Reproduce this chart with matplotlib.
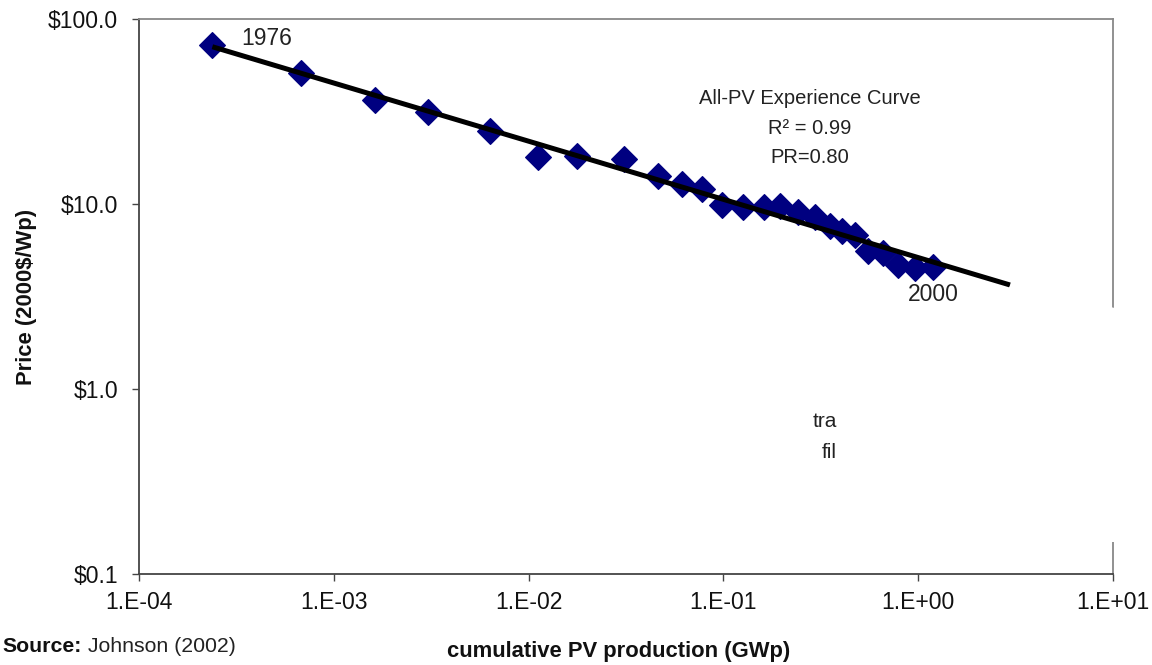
import matplotlib.pyplot as plt
import numpy as np
from matplotlib.patches import Polygon
from matplotlib.ticker import NullLocator

plt.rcParams['font.family'] = ['Liberation Sans', 'DejaVu Sans']

# cumulative PV production (GWp) and price (2000$/Wp), 1976-2000
years = list(range(1976, 2001))
cum_gwp = [2.38e-4, 6.82e-4, 1.62e-3, 3.05e-3, 6.31e-3, 0.0112, 0.0178, 0.0310,
           0.0459, 0.0612, 0.0776, 0.0983, 0.126, 0.161, 0.196, 0.242, 0.296,
           0.353, 0.406, 0.474, 0.555, 0.663, 0.791, 0.964, 1.197]
price = [72.4, 51.3, 36.5, 31.3, 24.9, 18.0, 18.2, 17.4, 14.1, 12.8, 12.0, 9.88,
         9.60, 9.67, 9.75, 9.05, 8.54, 7.60, 7.17, 6.80, 5.59, 5.45, 4.68, 4.49,
         4.58]

# experience curve (fit line) end points as drawn
trend_x = [2.38e-4, 2.96]
trend_y = [70.8, 3.65]

xticks = [1e-4, 1e-3, 1e-2, 1e-1, 1e0, 1e1]
xtick_labels = ['1.E-04', '1.E-03', '1.E-02', '1.E-01', '1.E+00', '1.E+01']
yticks = [0.1, 1, 10, 100]
ytick_labels = ['$0.1', '$1.0', '$10.0', '$100.0']

W, H = 1152, 665
fig = plt.figure(figsize=(W / 100, H / 100), dpi=100)
ax = fig.add_axes([139 / W, 1 - 574 / H, 974 / W, 555 / H])
ax.set_xscale('log')
ax.set_yscale('log')
ax.set_xlim(1e-4, 1e1)
ax.set_ylim(0.1, 100)

ax.plot(cum_gwp, price, 'D', color='#000080', ms=13, mew=0.8, mec='#000080',
        zorder=3)
ax.plot(trend_x, trend_y, color='black', lw=3.6, solid_capstyle='butt', zorder=4)

ax.set_xticks(xticks)
ax.set_xticklabels(xtick_labels)
ax.set_yticks(yticks)
ax.set_yticklabels(ytick_labels)
ax.xaxis.set_minor_locator(NullLocator())
ax.yaxis.set_minor_locator(NullLocator())
ax.tick_params(direction='out', length=5, width=1, color='#444444',
               labelsize=16.5, labelcolor='#111111')
ax.tick_params(axis='x', pad=7)
ax.tick_params(axis='y', pad=10)

for side in ['left', 'bottom']:
    ax.spines[side].set_color('#444444')
    ax.spines[side].set_linewidth(1.3)
for side in ['top', 'right']:
    ax.spines[side].set_color('#888888')
    ax.spines[side].set_linewidth(1.3)

ax.set_xlabel('cumulative PV production (GWp)', fontsize=15.8, weight='bold', color='#111111')
ax.xaxis.set_label_coords(0.4928, -0.12)
ax.set_ylabel('Price (2000$/Wp)', fontsize=15.8, weight='bold', color='#111111')
ax.yaxis.set_label_coords(-0.105, 0.5)

ax.annotate(str(years[0]), xy=(cum_gwp[0], price[0]), xytext=(21, 5),
            textcoords='offset points', ha='left', va='center', fontsize=16.5, color='#222222')
ax.annotate(str(years[-1]), xy=(cum_gwp[-1], price[-1]), xytext=(0, -20),
            textcoords='offset points', ha='center', va='center', fontsize=16.5, color='#222222')

ax.text(0.689, 0.856, 'All-PV Experience Curve', transform=ax.transAxes,
        ha='center', va='center', fontsize=14.5, color='#222222')
ax.text(0.689, 0.802, 'R² = 0.99', transform=ax.transAxes,
        ha='center', va='center', fontsize=14.5, color='#222222')
ax.text(0.689, 0.750, 'PR=0.80', transform=ax.transAxes,
        ha='center', va='center', fontsize=14.5, color='#222222')

ax.text(0.692, 0.274, 'tra', transform=ax.transAxes,
        ha='left', va='center', fontsize=15, color='#222222')
ax.text(0.701, 0.219, 'fil', transform=ax.transAxes,
        ha='left', va='center', fontsize=15, color='#222222')

# white cut-out over the right part of the chart
cut_px = [(838, 323), (1003, 316), (1003, 298), (1013, 281), (1152, 318),
          (1152, 542), (838, 542)]
fig.add_artist(Polygon([(x / W, 1 - y / H) for x, y in cut_px], closed=True,
                       transform=fig.transFigure, facecolor='white',
                       edgecolor='none', zorder=10))

src = fig.text(0.002, 1 - 646 / H, 'Source:', ha='left', va='center',
               fontsize=15.3, weight='bold', color='#111111')
ax.annotate(' Johnson (2002)', xy=(1, 0.5), xycoords=src, ha='left', va='center',
            fontsize=15.3, color='#222222', annotation_clip=False)

fig.savefig('out.png', dpi=100)
